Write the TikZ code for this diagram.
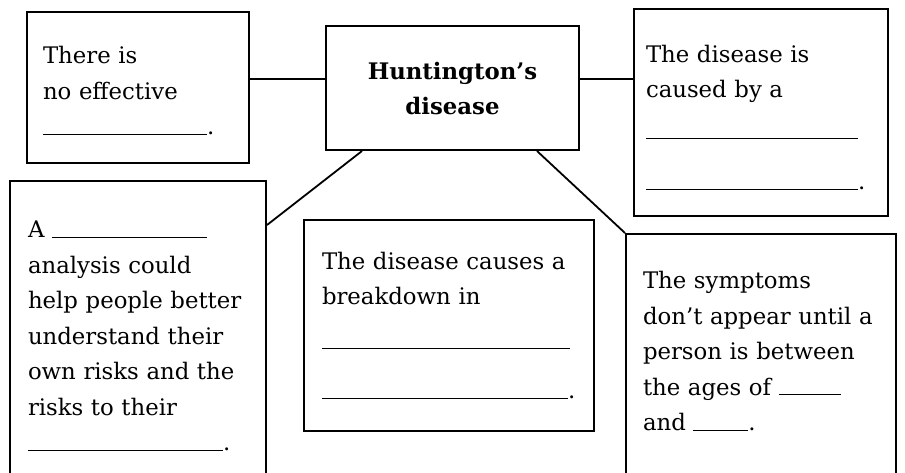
\documentclass[tikz,border=0pt]{standalone}
\usepackage{fontspec}
\setmainfont{DejaVu Serif}
\newcommand{\blank}[1]{\rule{#1}{0.5pt}}
\begin{document}
\begin{tikzpicture}[x=0.5pt, y=-0.5pt,
    panel/.style={draw, line width=1pt, anchor=north west, inner xsep=8pt, inner ysep=0pt, align=left, font=\fontsize{11.4pt}{17.75pt}\selectfont},
    link/.style={line width=0.9pt}]
	\useasboundingbox (0,0) rectangle (905,472);
	\clip (0,0) rectangle (905,472);
	\node[panel, minimum width=126.5pt, minimum height=62pt, text width=110.5pt, align=center, font=\fontsize{11.4pt}{17.5pt}\selectfont\bfseries] (hd) at (325,25) {Huntington’s\\disease};
	\node[panel, minimum width=111pt, minimum height=75.5pt, text width=95pt] (noeff) at (26,11) {\rule{0pt}{11.7pt}There is\\no effective\\\blank{82pt}.};
	\node[panel, inner xsep=6pt, minimum width=127pt, minimum height=103.5pt, text width=115pt] (cause) at (633,8) {\rule{0pt}{13.7pt}The disease is\\caused by a\\[3pt]\blank{106pt}\\[7.5pt]\blank{106pt}.};
	\node[panel, inner xsep=9pt, minimum width=128pt, minimum height=155pt, text width=110pt] (analysis) at (9,180) {A \blank{77.5pt}\\analysis could\\help people better\\understand their\\own risks and the\\risks to their\\\blank{97.5pt}.};
	\node[panel, inner xsep=9pt, minimum width=145pt, minimum height=105.5pt, text width=127pt] (breakdown) at (303,219) {The disease causes a\\breakdown in\\[4.5pt]\blank{124pt}\\[7pt]\blank{123pt}.};
	\node[panel, inner xsep=8.5pt, minimum width=135pt, minimum height=122.5pt, text width=118pt] (symptoms) at (625,233) {The symptoms\\don’t appear until a\\person is between\\the ages of \blank{31pt}\\and \blank{27.5pt}.\rule[-5.5pt]{0pt}{5.5pt}};
	\draw[link] ([yshift=4.5pt]hd.west) -- ([yshift=4.5pt]hd.west -| noeff.east);
	\draw[link] ([yshift=4.5pt]hd.east) -- ([yshift=4.5pt]hd.east -| cause.west);
	\draw[link] ([xshift=18.5pt]hd.south west) -- ([yshift=-22.5pt]analysis.north east);
	\draw[link] ([xshift=-21.5pt]hd.south east) -- (symptoms.north west);
\end{tikzpicture}
\end{document}
